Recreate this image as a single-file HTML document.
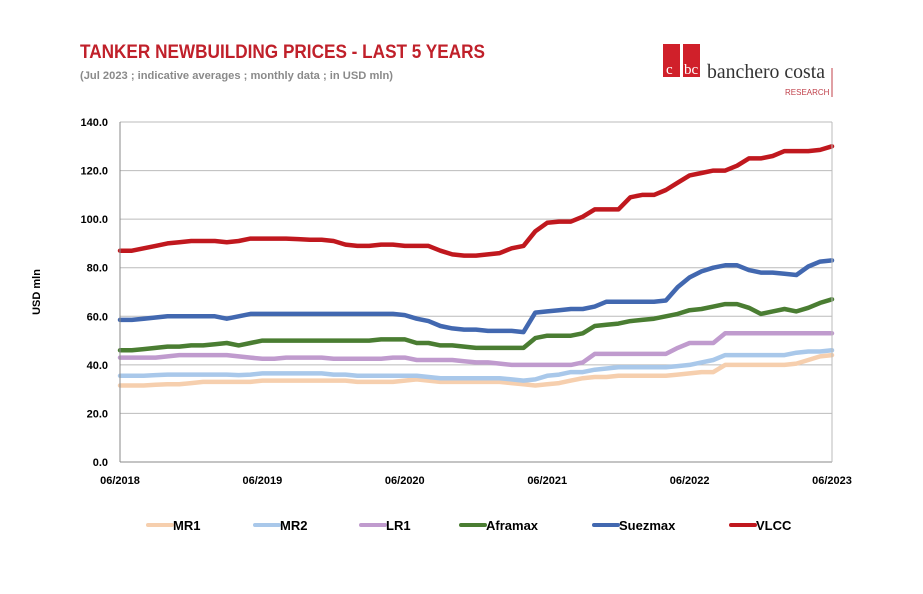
<!DOCTYPE html>
<html><head><meta charset="utf-8"><style>
body{margin:0;background:#fff;width:923px;height:589px;overflow:hidden;font-family:"Liberation Sans",sans-serif;}
</style></head><body>
<svg width="923" height="589" xmlns="http://www.w3.org/2000/svg">
<text x="80" y="58" font-family="Liberation Sans Narrow, Liberation Sans, sans-serif" font-size="19" font-weight="bold" fill="#c0202a" textLength="405" lengthAdjust="spacingAndGlyphs">TANKER NEWBUILDING PRICES - LAST 5 YEARS</text>
<text x="80" y="79" font-size="11" font-weight="bold" fill="#8a8a8a" textLength="313" lengthAdjust="spacingAndGlyphs">(Jul 2023 ; indicative averages ; monthly data ; in USD mln)</text>
<g>
<rect x="663" y="44" width="17" height="33" fill="#d0202a"/>
<rect x="683" y="44" width="17" height="33" fill="#d0202a"/>
<text x="666" y="74" font-family="Liberation Serif,serif" font-size="15" fill="#fff">c</text>
<text x="684" y="74" font-family="Liberation Serif,serif" font-size="15" fill="#fff">bc</text>
<text x="707" y="78" font-family="Liberation Serif,serif" font-size="20" fill="#333" textLength="118" lengthAdjust="spacingAndGlyphs">banchero costa</text>
<text x="785" y="95" font-size="8" fill="#c0404a">RESEARCH</text>
<line x1="832" y1="68" x2="832" y2="97" stroke="#c0404a" stroke-width="1"/>
</g>
<text transform="translate(40,292) rotate(-90)" text-anchor="middle" font-size="11" font-weight="bold" fill="#000">USD mln</text>
<g id="grid"></g><g id="series"></g><g id="axes"></g><g id="legend"></g>
</svg>
<script>
const categories=["06/2018","06/2019","06/2020","06/2021","06/2022","06/2023"];
const yTicks=[0,20,40,60,80,100,120,140];
const mr1=[31.5,31.5,31.5,31.8,32,32,32.5,33,33,33,33,33,33.5,33.5,33.5,33.5,33.5,33.5,33.5,33.5,33,33,33,33,33.5,34,33.5,33,33,33,33,33,33,32.5,32,31.5,32,32.5,33.5,34.5,35,35,35.5,35.5,35.5,35.5,35.5,36,36.5,37,37,40,40,40,40,40,40,40.5,42,43.5,44];
const mr2=[35.5,35.5,35.5,35.8,36,36,36,36,36,36,35.8,36,36.5,36.5,36.5,36.5,36.5,36.5,36,36,35.5,35.5,35.5,35.5,35.5,35.5,35,34.5,34.5,34.5,34.5,34.5,34.5,34,33.5,34,35.5,36,37,37,38,38.5,39,39,39,39,39,39.5,40,41,42,44,44,44,44,44,44,45,45.5,45.5,46];
const lr1=[43,43,43,43,43.5,44,44,44,44,44,43.5,43,42.5,42.5,43,43,43,43,42.5,42.5,42.5,42.5,42.5,43,43,42,42,42,42,41.5,41,41,40.5,40,40,40,40,40,40,41,44.5,44.5,44.5,44.5,44.5,44.5,44.5,47,49,49,49,53,53,53,53,53,53,53,53,53,53];
const aframax=[46,46,46.5,47,47.5,47.5,48,48,48.5,49,48,49,50,50,50,50,50,50,50,50,50,50,50.5,50.5,50.5,49,49,48,48,47.5,47,47,47,47,47,51,52,52,52,53,56,56.5,57,58,58.5,59,60,61,62.5,63,64,65,65,63.5,61,62,63,62,63.5,65.5,67];
const suezmax=[58.5,58.5,59,59.5,60,60,60,60,60,59,60,61,61,61,61,61,61,61,61,61,61,61,61,61,60.5,59,58,56,55,54.5,54.5,54,54,54,53.5,61.5,62,62.5,63,63,64,66,66,66,66,66,66.5,72,76,78.5,80,81,81,79,78,78,77.5,77,80.5,82.5,83];
const vlcc=[87,87,88,89,90,90.5,91,91,91,90.5,91,92,92,92,92,91.8,91.5,91.5,91,89.5,89,89,89.5,89.5,89,89,89,87,85.5,85,85,85.5,86,88,89,95,98.5,99,99,101,104,104,104,109,110,110,112,115,118,119,120,120,122,125,125,126,128,128,128,128.5,130];
const seriesNames=["MR1","MR2","LR1","Aframax","Suezmax","VLCC"];
const seriesData=[mr1,mr2,lr1,aframax,suezmax,vlcc];
const colors=["#f6cfae","#a9c8ea","#c09bce","#4a7d32","#4268b0","#c0181e"];
const NS="http://www.w3.org/2000/svg";
const X0=120,X1=832,Y0=462,Y1=122;
const xs=i=>X0+(X1-X0)*i/60;
const ys=v=>Y0-(Y0-Y1)*v/140;
function mk(t,a,p){const e=document.createElementNS(NS,t);for(const k in a)e.setAttribute(k,a[k]);p.appendChild(e);return e;}
const grid=document.getElementById('grid'),axes=document.getElementById('axes'),ser=document.getElementById('series'),leg=document.getElementById('legend');
yTicks.forEach(v=>{
 const l=mk('line',{x1:X0,x2:X1,y1:ys(v),y2:ys(v),stroke:v===0?'#888':'#bbb','stroke-width':1},grid);
 
 
 const t=mk('text',{x:108,y:ys(v)+4,'text-anchor':'end','font-size':11,'font-weight':'bold'},axes);
 t.textContent=v.toFixed(1);
 
 
});
mk('line',{x1:X0,x2:X0,y1:Y1,y2:Y0,stroke:'#888'},axes);
mk('line',{x1:X1,x2:X1,y1:Y1,y2:Y0,stroke:'#bbb'},axes);
categories.forEach((c,i)=>{
 const t=mk('text',{x:xs(i*12),y:484,'text-anchor':'middle','font-size':11,'font-weight':'bold'},axes);
 t.textContent=c;
 
 
});
seriesData.forEach((d,s)=>{
 const p=mk('polyline',{points:d.map((v,i)=>xs(i).toFixed(1)+','+ys(v).toFixed(1)).join(' '),fill:'none',stroke:colors[s],'stroke-width':4.5,'stroke-linejoin':'round','stroke-linecap':'round'},ser);
 
 
});
const lx=[148,255,361,461,594,731];
seriesNames.forEach((n,s)=>{
 const g=mk('g',{},leg);
 
 
 mk('line',{x1:lx[s],x2:lx[s]+24,y1:525,y2:525,stroke:colors[s],'stroke-width':4,'stroke-linecap':'round'},g);
 const t=mk('text',{x:lx[s]+25,y:530,'font-size':13,'font-weight':'bold'},g);
 t.textContent=n;
});
</script>
</body></html>
